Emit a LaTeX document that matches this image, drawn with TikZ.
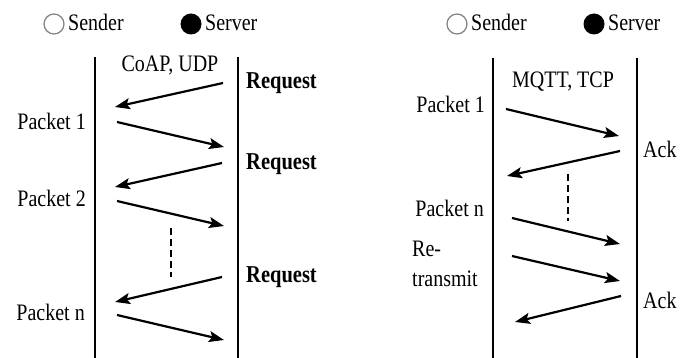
\documentclass[tikz,border=0pt]{standalone}
\usepackage{fontspec}
\setmainfont{Liberation Serif}
\usepackage{tikz}
\usetikzlibrary{arrows.meta}

\tikzset{
  lbl/.style={inner sep=0pt,yscale=1.18,font=\fontsize{20}{21}\selectfont},
  boldlbl/.style={lbl,font=\fontsize{20.5}{21}\selectfont\bfseries},
  lifeline/.style={line width=2pt},
  msg/.style={line width=2.2pt,-{Stealth[length=15pt,width=11pt,inset=3pt]}},
  gap/.style={line width=2.6pt,dash pattern=on 7pt off 4pt}
}

\begin{document}
\begin{tikzpicture}[x=1pt,y=-1pt]
\useasboundingbox (0,0) rectangle (680,358);

\node[circle,draw=gray,line width=1.2pt,minimum size=20pt,inner sep=0pt] (sndL) at (54,24) {};
\node[lbl,anchor=base west] (sndLtxt) at (68,31) {Sender};
\node[circle,fill=black,minimum size=21pt,inner sep=0pt] (srvL) at (191,24) {};
\node[lbl,anchor=base west] (srvLtxt) at (205,31) {Server};

\node[circle,draw=gray,line width=1.2pt,minimum size=20pt,inner sep=0pt] (sndR) at (457,24) {};
\node[lbl,anchor=base west] (sndRtxt) at (471,31) {Sender};
\node[circle,fill=black,minimum size=21pt,inner sep=0pt] (srvR) at (594,24) {};
\node[lbl,anchor=base west] (srvRtxt) at (608,31) {Server};

\draw[lifeline] (95,57) -- (95,358);
\draw[lifeline] (238,57) -- (238,358);
\draw[lifeline] (493,58) -- (493,358);
\draw[lifeline] (637,58) -- (637,358);

\node[lbl,anchor=base] (coap) at (170,72) {CoAP, UDP};
\node[boldlbl,anchor=base west] (req1) at (246,89) {Request};
\node[boldlbl,anchor=base west] (req2) at (246,170) {Request};
\node[boldlbl,anchor=base west] (req3) at (246,282) {Request};
\node[lbl,anchor=base east] (pk1L) at (86,130) {Packet 1};
\node[lbl,anchor=base east] (pk2L) at (86,207) {Packet 2};
\node[lbl,anchor=base east] (pknL) at (85,320) {Packet n};

\node[lbl,anchor=base] (mqtt) at (563,88) {MQTT, TCP};
\node[lbl,anchor=base east] (pk1R) at (485,113) {Packet 1};
\node[lbl,anchor=base east] (pknR) at (484,217) {Packet n};
\node[lbl,anchor=base west,align=left] (retx) at (412,286) {Re-\\[4pt]transmit};
\node[lbl,anchor=base west] (ack1) at (643,158) {Ack};
\node[lbl,anchor=base west] (ack2) at (643,308) {Ack};

\foreach \n/\xa/\ya/\xb/\yb in {1/223/83/115/107, 2/117/122/224/147, 3/222/163/115/187,
    4/117/201/224/226, 5/222/277/115/302, 6/117/315/224/340,
    7/506/109/619/136, 8/620/151/507/176, 9/512/218/620/244,
    10/512/256/620/281, 11/621/296/515/322} {
  \coordinate (m\n a) at (\xa,\ya);
  \coordinate (m\n b) at (\xb,\yb);
  \draw[msg] (m\n a) -- (m\n b);
}

\coordinate (dotLa) at (171,228);
\coordinate (dotLb) at (171,277);
\draw[gap] (dotLa) -- (dotLb);
\coordinate (dotRa) at (568,174);
\coordinate (dotRb) at (568,221);
\draw[gap] (dotRa) -- (dotRb);
\end{tikzpicture}
\end{document}
